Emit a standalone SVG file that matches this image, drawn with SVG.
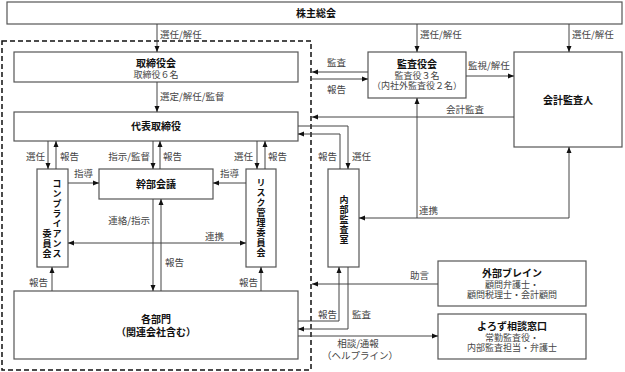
<svg xmlns="http://www.w3.org/2000/svg" width="625" height="372" viewBox="0 0 625 372">
<style>
.box{fill:#fff;stroke:#555;stroke-width:1.2}
.t{font-family:"Noto Sans CJK JP","Noto Sans CJK SC",sans-serif;font-size:10px;font-weight:bold;fill:#111;text-anchor:middle}
.s{font-family:"Noto Sans CJK JP","Noto Sans CJK SC",sans-serif;font-size:9px;fill:#444;text-anchor:middle}
.l{font-family:"Noto Sans CJK JP","Noto Sans CJK SC",sans-serif;font-size:9.5px;fill:#444}
.e{text-anchor:end}
.v{font-family:"Noto Sans CJK JP","Noto Sans CJK SC",sans-serif;font-size:9px;font-weight:bold;fill:#111;writing-mode:vertical-rl;text-orientation:upright;letter-spacing:1px}
.c{fill:none;stroke:#444;stroke-width:1}
.a{marker-end:url(#ah)}
.b{marker-start:url(#ah);marker-end:url(#ah)}
.st{marker-start:url(#ah)}
</style>
<defs>
<marker id="ah" viewBox="0 0 6 6" refX="6" refY="3" markerWidth="6" markerHeight="6" markerUnits="userSpaceOnUse" orient="auto-start-reverse">
<path d="M0,0.5 L6,3 L0,5.5 z" fill="#111"/>
</marker>
</defs>

<rect x="2" y="41" width="309" height="329" fill="none" stroke="#111" stroke-width="1.5" stroke-dasharray="5,3"/>

<g id="shareholders">
<rect class="box" x="7" y="2" width="615" height="22"/>
<text class="t" x="316" y="17">株主総会</text>
</g>
<g id="board">
<rect class="box" x="14" y="52" width="284" height="30"/>
<text class="t" x="156" y="66.5">取締役会</text>
<text class="s" x="156" y="77.5">取締役６名</text>
</g>
<g id="president">
<rect class="box" x="14" y="112" width="284" height="29"/>
<text class="t" x="156" y="130">代表取締役</text>
</g>
<g id="compliance">
<rect class="box" x="37" y="169" width="31" height="98"/>
<text class="v" x="57" y="179.5">コンプライアンス</text>
<text class="v" x="47" y="229.5">委員会</text>
</g>
<g id="executive">
<rect class="box" x="99" y="169" width="114" height="30"/>
<text class="t" x="156" y="188">幹部会議</text>
</g>
<g id="risk">
<rect class="box" x="246" y="169" width="30" height="98"/>
<text class="v" x="261" y="178.5">リスク管理委員会</text>
</g>
<g id="departments">
<rect class="box" x="14" y="291" width="284" height="68"/>
<text class="t" x="156" y="323">各部門</text>
<text class="t" x="156" y="336">（関連会社含む）</text>
</g>
<g id="auditboard">
<rect class="box" x="368" y="52" width="98" height="46"/>
<text class="t" x="417" y="68">監査役会</text>
<text class="s" x="417" y="78.5">監査役３名</text>
<text class="s" x="417" y="89">（内社外監査役２名）</text>
</g>
<g id="accountant">
<rect class="box" x="514" y="52" width="108" height="95"/>
<text class="t" x="568" y="104">会計監査人</text>
</g>
<g id="internalaudit">
<rect class="box" x="328" y="169" width="31" height="98"/>
<text class="v" x="344" y="195.5">内部監査室</text>
</g>
<g id="external">
<rect class="box" x="438" y="261" width="148" height="45"/>
<text class="t" x="512" y="277">外部ブレイン</text>
<text class="s" x="512" y="287.5">顧問弁護士・</text>
<text class="s" x="512" y="297.5">顧問税理士・会計顧問</text>
</g>
<g id="helpdesk">
<rect class="box" x="438" y="314" width="148" height="45"/>
<text class="t" x="512" y="330">よろず相談窓口</text>
<text class="s" x="512" y="340.5">常勤監査役・</text>
<text class="s" x="512" y="350.5">内部監査担当・弁護士</text>
</g>

<g id="connectors">
<path class="c a" d="M157,24 V52"/>
<path class="c a" d="M157,82 V112"/>
<path class="c a" d="M48,141 V169"/>
<path class="c a" d="M56,169 V141"/>
<path class="c a" d="M153,141 V169"/>
<path class="c a" d="M160,169 V141"/>
<path class="c a" d="M257,141 V169"/>
<path class="c a" d="M265,169 V141"/>
<path class="c a" d="M68,183 H99"/>
<path class="c a" d="M246,183 H213"/>
<path class="c a" d="M153,199 V291"/>
<path class="c a" d="M161,291 V199"/>
<path class="c b" d="M68,243 H246"/>
<path class="c a" d="M52,291 V267"/>
<path class="c a" d="M261,291 V267"/>
<path class="c a" d="M368,72 H312"/>
<path class="c a" d="M312,79 H368"/>
<path class="c a" d="M417,24 V52"/>
<path class="c a" d="M569,24 V52"/>
<path class="c a" d="M466,76 H514"/>
<path class="c a" d="M514,117 H312"/>
<path class="c a" d="M298,126 H348 V169"/>
<path class="c a" d="M340,169 V134 H298"/>
<path class="c b" d="M359,218 H569 V147"/>
<path class="c st" d="M417,98 V218"/>
<path class="c a" d="M438,284 H312"/>
<path class="c a" d="M298,321 H339 V267"/>
<path class="c a" d="M348,267 V329 H298"/>
<path class="c a" d="M298,336 H438"/>

<text class="l" x="160" y="38">選任/解任</text>
<text class="l" x="160" y="100">選定/解任/監督</text>
<text class="l e" x="45" y="160">選任</text>
<text class="l" x="60" y="160">報告</text>
<text class="l e" x="150" y="160">指示/監督</text>
<text class="l" x="163" y="160">報告</text>
<text class="l e" x="253" y="160">選任</text>
<text class="l" x="268" y="160">報告</text>
<text class="l" x="74" y="177">指導</text>
<text class="l" x="220" y="177">指導</text>
<text class="l e" x="150" y="224">連絡/指示</text>
<text class="l" x="165" y="266">報告</text>
<text class="l" x="205" y="240">連携</text>
<text class="l e" x="48" y="286">報告</text>
<text class="l e" x="258" y="286">報告</text>
<text class="l" x="327" y="66">監査</text>
<text class="l" x="327" y="93">報告</text>
<text class="l" x="420" y="38">選任/解任</text>
<text class="l" x="572" y="38">選任/解任</text>
<text class="l" x="468" y="69">監視/解任</text>
<text class="l" x="446" y="113">会計監査</text>
<text class="l e" x="337" y="160">報告</text>
<text class="l" x="352" y="160">選任</text>
<text class="l" x="419" y="214">連携</text>
<text class="l" x="410" y="279">助言</text>
<text class="l e" x="337" y="318">報告</text>
<text class="l" x="352" y="318">監査</text>
<text class="l" x="358" y="347" style="text-anchor:middle">相談/通報</text>
<text class="l" x="360" y="359" style="text-anchor:middle">（ヘルプライン）</text>
</g>
</svg>
